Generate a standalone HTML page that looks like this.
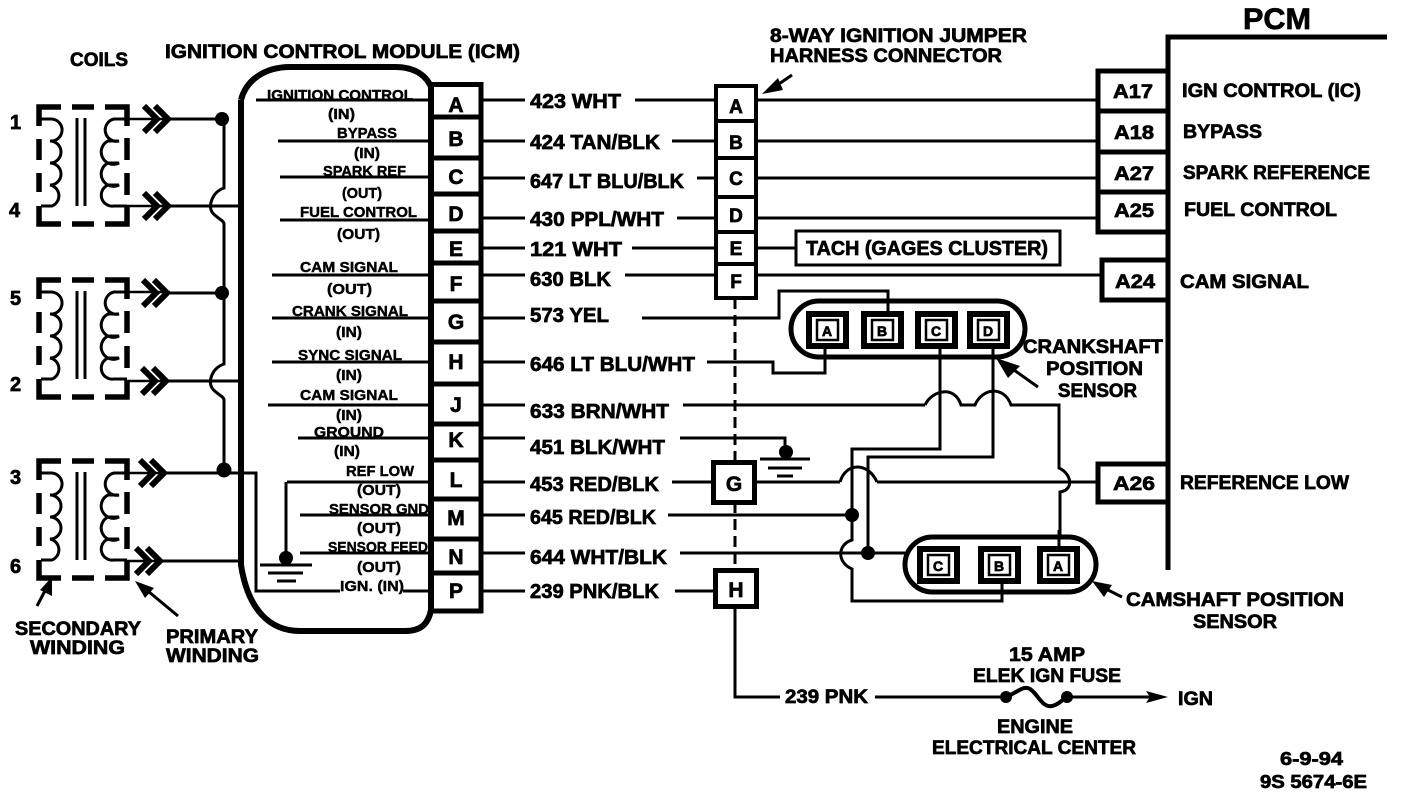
<!DOCTYPE html>
<html><head><meta charset="utf-8"><title>Ignition wiring diagram</title>
<style>
html,body{margin:0;padding:0;background:#fff;width:1408px;height:794px;overflow:hidden}
svg{display:block}
text{font-family:"Liberation Sans",sans-serif;font-weight:bold;fill:#000;stroke:#000;stroke-width:.7;font-size:19px}
.s{font-size:15px;stroke-width:.45}
.m{text-anchor:middle;font-size:21px;stroke-width:.7}
.p{font-size:20px}
</style></head><body>
<svg width="1408" height="794" viewBox="0 0 1408 794" xmlns="http://www.w3.org/2000/svg" fill="none" stroke="#000" stroke-width="3" stroke-linecap="butt" stroke-linejoin="miter">
<defs>
<g id="coil">
<path stroke-width="5.5" d="M61 107H39V126M39 139V160M39 173V192M39 206V224H61M72 107H94M72 224H94M105 107H127V126M127 138V160M127 173V195M127 207V224H105"/>
<path stroke-width="3" d="M77 118V206M85 118V206"/>
<path stroke-width="3" d="M41 119H52A11 11 0 0 1 50 141A11 11 0 0 1 50 163A11 11 0 0 1 50 185A11 11 0 0 1 52 206H41"/>
<path stroke-width="3" d="M127 119H114A11 11 0 0 0 119 141H108A11 11 0 0 0 119 163H108A11 11 0 0 0 119 185H108A11 11 0 0 0 114 206H127"/>
</g>
<path id="chev" stroke-width="6" d="M144 -13L157 0L144 13M155 -13L168 0L155 13"/>
<g id="sq"><rect x="3" y="3" width="37" height="32" stroke-width="6"/><rect x="11" y="9" width="21" height="20" stroke-width="2.5"/></g>
</defs>

<!-- coils -->
<use href="#coil"/><use href="#coil" y="173"/><use href="#coil" y="354"/>
<path stroke-width="2.5" d="M127 119H170M127 206H170M127 292H170M127 381H170M127 473H165M127 561H165"/>
<use href="#chev" y="119"/><use href="#chev" y="206"/><use href="#chev" y="293" x="-1"/><use href="#chev" y="381" x="-2"/><use href="#chev" y="473" x="-4"/><use href="#chev" y="561" x="-8"/>
<path stroke-width="3" d="M168 119H222M168 206H240M168 293H222M168 381H240M165 473H256V591H340M403 591H432M162 561H240"/>
<path stroke-width="3" d="M224 119V188C212 192 208 206 212 212C216 218 224 220 224 224V293V364C212 368 208 381 212 388C216 394 224 396 224 400V470"/>
<g fill="#000" stroke="none"><circle cx="222" cy="119" r="7"/><circle cx="222" cy="293" r="7"/><circle cx="224" cy="470" r="7.5"/></g>

<!-- ICM body -->
<path stroke-width="6" d="M241 100C246 80 265 67 290 67H395C415 67 428 76 432 90M241 100V565C248 610 270 631 300 631H405C420 631 428 625 431 610"/>

<!-- inner wires -->
<path stroke-width="3" d="M256 100H432M278 141H432M280 177H432M280 220H432M272 275H432M272 318H432M272 362H432M268 405H432M298 438H432M287 482H432M300 515H432M300 553H432"/>
<path stroke-width="3" d="M286 482V552"/>
<circle cx="286" cy="558" r="7" fill="#000" stroke="none"/>
<path stroke-width="3" d="M260 565H312M268 573H303M277 581H296"/>

<!-- connector strip -->
<rect x="434" y="84" width="46" height="527" fill="#fff" stroke="none"/>
<path stroke-width="6" d="M431 82V613"/>
<path stroke-width="5" d="M431 84.500H483M481 82V613M431 611H483M431 117H483M431 158H483M431 194H483M431 231H483M431 263H483M431 301H483M431 342H483M431 384H483M431 424H483M431 460H483M431 499H483M431 539H483M431 573H483"/>
<g>
<text class="m" x="456" y="112">A</text><text class="m" x="456" y="146">B</text><text class="m" x="456" y="184">C</text><text class="m" x="456" y="221">D</text><text class="m" x="456" y="256">E</text><text class="m" x="456" y="291">F</text><text class="m" x="456" y="329">G</text><text class="m" x="456" y="369">H</text><text class="m" x="456" y="412">J</text><text class="m" x="456" y="447">K</text><text class="m" x="456" y="487">L</text><text class="m" x="456" y="525">M</text><text class="m" x="456" y="564">N</text><text class="m" x="456" y="598">P</text>
</g>

<!-- stubs and wires -->
<path stroke-width="3" d="M482 100H525M635 100H715M482 141H525M672 141H715M482 178H525M697 178H715M482 218H525M677 218H715M482 248H525M632 248H715M482 275H525M625 275H715M482 318H525M642 318H779V291H888V311M482 362H525M707 362H773V373H825V348M482 405H525M683 405H925M482 438H525M680 438H785V446M482 482H525M672 482H712M482 515H525M668 515H852M482 553H525M680 553H835M482 591H525M675 591H715"/>
<path stroke-width="3" d="M757 100H1098M757 141H1098M757 178H1098M757 218H1098M757 248H795M757 275H1102M757 482H840M877 482H1098"/>
<path stroke-width="3" d="M925 405C932 390 955 385 961 405H975C982 388 1004 385 1011 405H1059V468C1072 474 1074 490 1060 492V546"/>
<path stroke-width="3" d="M840 482C846 462 868 462 877 482"/>
<path stroke-width="3" d="M940 348V449H852V540C838 544 836 562 852 569V601H1002V584"/>
<path stroke-width="3" d="M993 348V457H868V553M835 553H905"/>
<g fill="#000" stroke="none"><circle cx="852" cy="515" r="7"/><circle cx="868" cy="553" r="7"/><circle cx="786" cy="452" r="7"/></g>
<path stroke-width="3" d="M760 459H810M768 468H802M777 476H793"/>

<!-- jumper connector -->
<path stroke-width="3" stroke-dasharray="11 6" d="M735 298V569"/>
<rect x="716" y="86" width="40" height="212" stroke-width="4" fill="#fff"/>
<path stroke-width="4" d="M716 121H756M716 158H756M716 197H756M716 232H756M716 264H756"/>
<text class="m" x="736" y="113" style="font-size:19px">A</text><text class="m" x="736" y="149" style="font-size:19px">B</text><text class="m" x="736" y="185" style="font-size:19px">C</text><text class="m" x="736" y="222" style="font-size:19px">D</text><text class="m" x="736" y="255" style="font-size:19px">E</text><text class="m" x="736" y="288" style="font-size:19px">F</text>
<rect x="713.500" y="462.500" width="41" height="40" stroke-width="5" fill="#fff"/><text class="m" x="734" y="491">G</text>
<rect x="715.500" y="570.500" width="41" height="36" stroke-width="5" fill="#fff"/><text class="m" x="736" y="597">H</text>
<path stroke-width="3" d="M735 608V697H780M875 697H1000M1070 697H1150"/>
<path fill="#000" stroke="none" d="M1146 691L1168 697L1146 703L1150 697Z"/>
<circle cx="1006" cy="697" r="6" fill="#000" stroke="none"/><circle cx="1067" cy="697" r="6" fill="#000" stroke="none"/>
<path stroke-width="4" d="M1006 697C1018 692 1024 685 1030 689C1038 694 1042 708 1052 706C1058 705 1062 700 1067 697"/>

<!-- TACH -->
<rect x="796" y="231" width="264" height="34" stroke-width="3" fill="#fff"/>

<!-- PCM -->
<path stroke-width="5" d="M1387 37H1168V570"/>
<path stroke-width="5" d="M1168 71H1098V232H1168M1098 111H1168M1098 152H1168M1098 192H1168M1168 260H1102V300H1168M1168 464H1098V502H1168"/>

<!-- sensors -->
<rect x="791" y="301" width="234" height="56" rx="28" stroke-width="5" fill="#fff"/>
<use href="#sq" x="806" y="311"/><use href="#sq" x="861" y="311"/><use href="#sq" x="915" y="311"/><use href="#sq" x="967" y="311"/>
<rect x="905" y="537" width="191" height="55" rx="27.500" stroke-width="5" fill="#fff"/>
<use href="#sq" x="917" y="546"/><use href="#sq" x="978" y="546"/><use href="#sq" x="1037" y="546"/>
<path stroke-width="3" d="M888 291V311M825 348V358M940 348V358M993 348V358M1059 530V546M1002 582V592"/>
<text x="827" y="336" text-anchor="middle" style="font-size:14px">A</text><text x="882" y="336" text-anchor="middle" style="font-size:14px">B</text><text x="936" y="336" text-anchor="middle" style="font-size:14px">C</text><text x="988" y="336" text-anchor="middle" style="font-size:14px">D</text>
<text x="938" y="571" text-anchor="middle" style="font-size:14px">C</text><text x="999" y="571" text-anchor="middle" style="font-size:14px">B</text><text x="1058" y="571" text-anchor="middle" style="font-size:14px">A</text>

<!-- arrows -->
<path stroke-width="3" d="M792 75L770 90M1038 387L1004 363M1122 597L1102 587M37 606L48 585M178 616L143 587"/>
<g fill="#000" stroke="none">
<path d="M762 94L778 78L783 90Z"/><path d="M996 358L1020 366L1008 378Z"/><path d="M1092 581L1112 585L1104 597Z"/><path d="M52 577L52 596L40 590Z"/><path d="M135 581L154 588L145 598Z"/>
</g>

<!-- labels -->
<text x="1243" y="29" textLength="68" lengthAdjust="spacingAndGlyphs" style="font-size:30px">PCM</text>
<text x="165" y="58" textLength="355" lengthAdjust="spacingAndGlyphs">IGNITION CONTROL MODULE (ICM)</text>
<text x="70" y="66" textLength="58" lengthAdjust="spacingAndGlyphs">COILS</text>
<text x="770" y="42" textLength="257" lengthAdjust="spacingAndGlyphs">8-WAY IGNITION JUMPER</text>
<text x="770" y="62" textLength="232" lengthAdjust="spacingAndGlyphs">HARNESS CONNECTOR</text>
<text x="10" y="129" style="font-size:20px">1</text><text x="9" y="217" style="font-size:20px">4</text><text x="10" y="305" style="font-size:20px">5</text><text x="10" y="391" style="font-size:20px">2</text><text x="10" y="484" style="font-size:20px">3</text><text x="10" y="573" style="font-size:20px">6</text>
<text x="15" y="635" textLength="126" lengthAdjust="spacingAndGlyphs">SECONDARY</text><text x="30" y="654" textLength="95" lengthAdjust="spacingAndGlyphs">WINDING</text>
<text x="166" y="643" textLength="92" lengthAdjust="spacingAndGlyphs">PRIMARY</text><text x="166" y="662" textLength="93" lengthAdjust="spacingAndGlyphs">WINDING</text>

<g>
<text class="s" x="267" y="100" textLength="146" lengthAdjust="spacingAndGlyphs">IGNITION CONTROL</text>
<text class="s" x="328" y="119" textLength="27" lengthAdjust="spacingAndGlyphs">(IN)</text>
<text class="s" x="337" y="138" textLength="60" lengthAdjust="spacingAndGlyphs">BYPASS</text>
<text class="s" x="354" y="158" textLength="26" lengthAdjust="spacingAndGlyphs">(IN)</text>
<text class="s" x="323" y="176" textLength="83" lengthAdjust="spacingAndGlyphs">SPARK REF</text>
<text class="s" x="342" y="198" textLength="40" lengthAdjust="spacingAndGlyphs">(OUT)</text>
<text class="s" x="300" y="217" textLength="117" lengthAdjust="spacingAndGlyphs">FUEL CONTROL</text>
<text class="s" x="337" y="239" textLength="43" lengthAdjust="spacingAndGlyphs">(OUT)</text>
<text class="s" x="300" y="272" textLength="98" lengthAdjust="spacingAndGlyphs">CAM SIGNAL</text>
<text class="s" x="327" y="294" textLength="45" lengthAdjust="spacingAndGlyphs">(OUT)</text>
<text class="s" x="292" y="316" textLength="116" lengthAdjust="spacingAndGlyphs">CRANK SIGNAL</text>
<text class="s" x="336" y="337" textLength="26" lengthAdjust="spacingAndGlyphs">(IN)</text>
<text class="s" x="298" y="360" textLength="104" lengthAdjust="spacingAndGlyphs">SYNC SIGNAL</text>
<text class="s" x="336" y="380" textLength="26" lengthAdjust="spacingAndGlyphs">(IN)</text>
<text class="s" x="300" y="400" textLength="98" lengthAdjust="spacingAndGlyphs">CAM SIGNAL</text>
<text class="s" x="336" y="420" textLength="26" lengthAdjust="spacingAndGlyphs">(IN)</text>
<text class="s" x="314" y="437" textLength="70" lengthAdjust="spacingAndGlyphs">GROUND</text>
<text class="s" x="334" y="456" textLength="26" lengthAdjust="spacingAndGlyphs">(IN)</text>
<text class="s" x="346" y="476" textLength="68" lengthAdjust="spacingAndGlyphs">REF LOW</text>
<text class="s" x="357" y="495" textLength="44" lengthAdjust="spacingAndGlyphs">(OUT)</text>
<text class="s" x="329" y="514" textLength="100" lengthAdjust="spacingAndGlyphs">SENSOR GND</text>
<text class="s" x="357" y="533" textLength="44" lengthAdjust="spacingAndGlyphs">(OUT)</text>
<text class="s" x="328" y="552" textLength="100" lengthAdjust="spacingAndGlyphs">SENSOR FEED</text>
<text class="s" x="357" y="572" textLength="44" lengthAdjust="spacingAndGlyphs">(OUT)</text>
<text class="s" x="340" y="591" textLength="64" lengthAdjust="spacingAndGlyphs">IGN. (IN)</text>
</g>

<g>
<text class="p" x="530" y="108" textLength="91" lengthAdjust="spacingAndGlyphs">423 WHT</text>
<text class="p" x="530" y="149" textLength="130" lengthAdjust="spacingAndGlyphs">424 TAN/BLK</text>
<text class="p" x="530" y="188" textLength="154" lengthAdjust="spacingAndGlyphs">647 LT BLU/BLK</text>
<text class="p" x="530" y="226" textLength="134" lengthAdjust="spacingAndGlyphs">430 PPL/WHT</text>
<text class="p" x="530" y="256" textLength="92" lengthAdjust="spacingAndGlyphs">121 WHT</text>
<text class="p" x="530" y="286" textLength="81" lengthAdjust="spacingAndGlyphs">630 BLK</text>
<text class="p" x="530" y="322" textLength="79" lengthAdjust="spacingAndGlyphs">573 YEL</text>
<text class="p" x="530" y="371" textLength="165" lengthAdjust="spacingAndGlyphs">646 LT BLU/WHT</text>
<text class="p" x="530" y="418" textLength="139" lengthAdjust="spacingAndGlyphs">633 BRN/WHT</text>
<text class="p" x="530" y="454" textLength="135" lengthAdjust="spacingAndGlyphs">451 BLK/WHT</text>
<text class="p" x="530" y="491" textLength="129" lengthAdjust="spacingAndGlyphs">453 RED/BLK</text>
<text class="p" x="530" y="524" textLength="126" lengthAdjust="spacingAndGlyphs">645 RED/BLK</text>
<text class="p" x="530" y="564" textLength="137" lengthAdjust="spacingAndGlyphs">644 WHT/BLK</text>
<text class="p" x="530" y="598" textLength="129" lengthAdjust="spacingAndGlyphs">239 PNK/BLK</text>
</g>

<text class="p" x="806" y="255" textLength="242" lengthAdjust="spacingAndGlyphs">TACH (GAGES CLUSTER)</text>

<g>
<text x="1113" y="98" textLength="40" lengthAdjust="spacingAndGlyphs">A17</text>
<text x="1114" y="139" textLength="40" lengthAdjust="spacingAndGlyphs">A18</text>
<text x="1114" y="180" textLength="40" lengthAdjust="spacingAndGlyphs">A27</text>
<text x="1114" y="217" textLength="40" lengthAdjust="spacingAndGlyphs">A25</text>
<text x="1115" y="288" textLength="40" lengthAdjust="spacingAndGlyphs">A24</text>
<text x="1113" y="490" textLength="42" lengthAdjust="spacingAndGlyphs">A26</text>
<text x="1182" y="97" textLength="179" lengthAdjust="spacingAndGlyphs">IGN CONTROL (IC)</text>
<text x="1183" y="138" textLength="79" lengthAdjust="spacingAndGlyphs">BYPASS</text>
<text x="1183" y="179" textLength="187" lengthAdjust="spacingAndGlyphs">SPARK REFERENCE</text>
<text x="1184" y="216" textLength="153" lengthAdjust="spacingAndGlyphs">FUEL CONTROL</text>
<text x="1180" y="288" textLength="129" lengthAdjust="spacingAndGlyphs">CAM SIGNAL</text>
<text x="1180" y="489" textLength="169" lengthAdjust="spacingAndGlyphs">REFERENCE LOW</text>
</g>

<text x="1023" y="353" textLength="140" lengthAdjust="spacingAndGlyphs">CRANKSHAFT</text>
<text x="1046" y="375" textLength="97" lengthAdjust="spacingAndGlyphs">POSITION</text>
<text x="1058" y="397" textLength="79" lengthAdjust="spacingAndGlyphs">SENSOR</text>
<text x="1126" y="606" textLength="218" lengthAdjust="spacingAndGlyphs">CAMSHAFT POSITION</text>
<text x="1193" y="628" textLength="84" lengthAdjust="spacingAndGlyphs">SENSOR</text>
<text x="1009" y="661" textLength="76" lengthAdjust="spacingAndGlyphs">15 AMP</text>
<text x="973" y="682" textLength="148" lengthAdjust="spacingAndGlyphs">ELEK IGN FUSE</text>
<text x="997" y="733" textLength="76" lengthAdjust="spacingAndGlyphs">ENGINE</text>
<text x="932" y="754" textLength="204" lengthAdjust="spacingAndGlyphs">ELECTRICAL CENTER</text>
<text x="1178" y="705" textLength="35" lengthAdjust="spacingAndGlyphs">IGN</text>
<text x="785" y="703" textLength="83" lengthAdjust="spacingAndGlyphs">239 PNK</text>
<text x="1280" y="765" textLength="63" lengthAdjust="spacingAndGlyphs" style="font-size:18px">6-9-94</text>
<text x="1260" y="788" textLength="107" lengthAdjust="spacingAndGlyphs" style="font-size:18px">9S 5674-6E</text>
</svg>
</body></html>
